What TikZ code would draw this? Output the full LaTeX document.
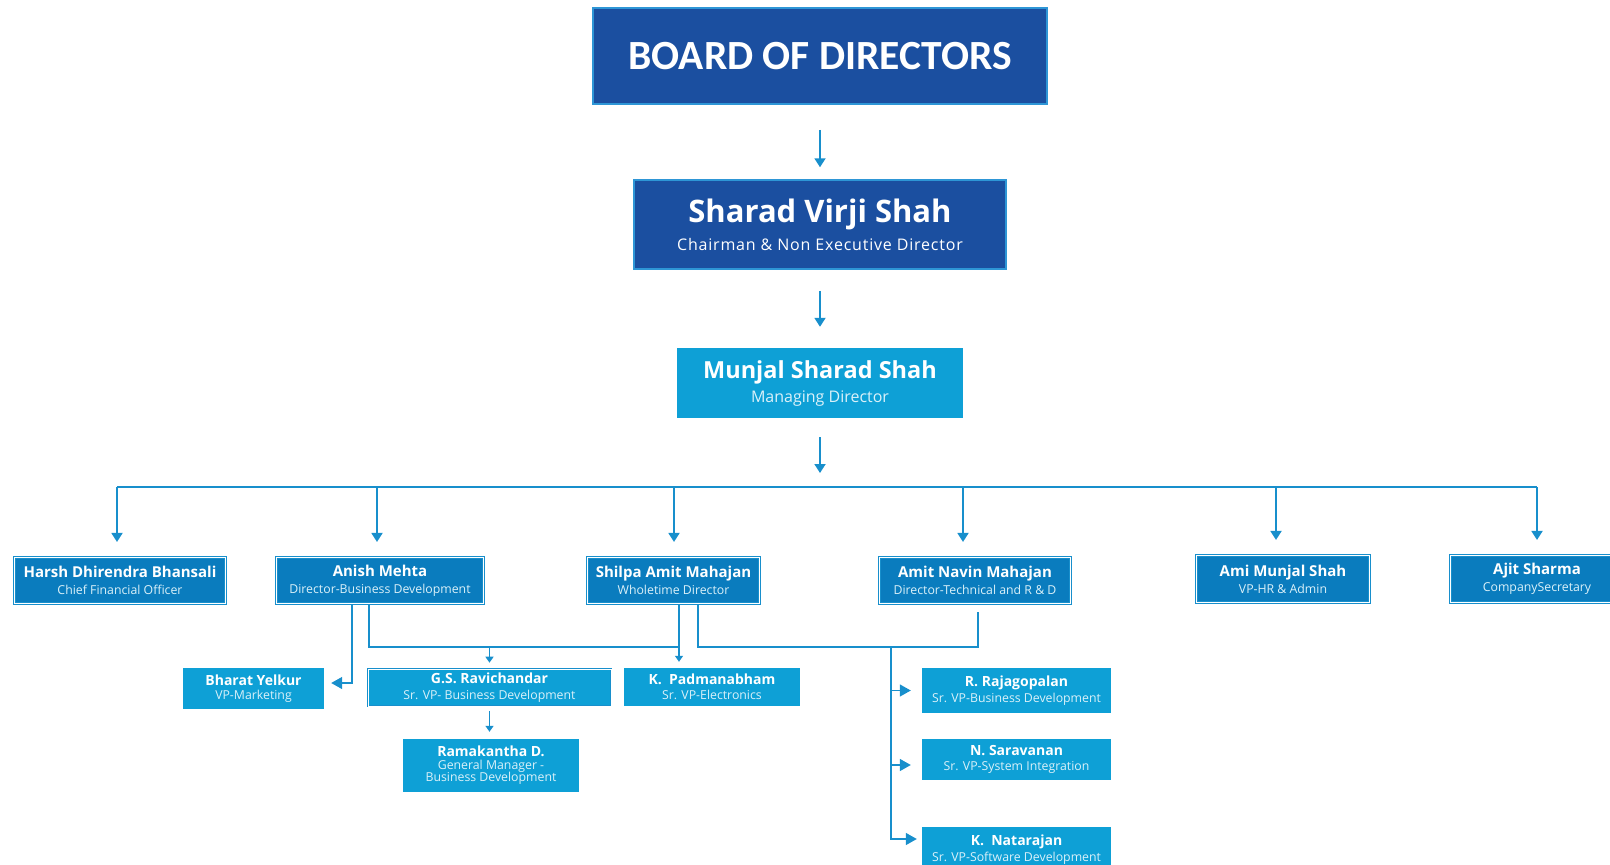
\documentclass[tikz,border=0pt]{standalone}
\usepackage{fontspec}
\setmainfont{Open Sans}
\newfontfamily\calibri{Carlito}
\usetikzlibrary{arrows.meta}

\definecolor{navy}{RGB}{27,79,160}
\definecolor{deep}{RGB}{10,124,190}
\definecolor{sky}{RGB}{14,160,214}
\definecolor{wire}{RGB}{24,143,204}
\definecolor{rim}{RGB}{46,150,214}
\colorlet{pale}{white!85!sky}

\newcommand{\nmtop}{\bfseries\fontsize{31}{34}\selectfont}
\newcommand{\nmmd}{\bfseries\fontsize{23.5}{26}\selectfont}
\newcommand{\nmhead}{\bfseries\fontsize{15}{17}\selectfont}
\newcommand{\nmstaff}{\bfseries\fontsize{14}{16}\selectfont}

\tikzset{
  board/.style={draw=rim, line width=1.5pt, fill=navy, text=white, align=center, inner sep=0pt},
  md/.style={fill=sky, text=pale, align=center, inner sep=0pt, font=\fontsize{16}{24}\selectfont},
  head/.style={draw=wire, double=white, double distance=1.2pt, line width=0.7pt, fill=deep,
    text=pale, align=center, inner sep=0pt, minimum height=46.4pt, font=\fontsize{12.3}{17}\selectfont},
  staff/.style={fill=sky, text=pale, align=center, inner sep=0pt, font=\fontsize{12.3}{15}\selectfont},
  twin/.style={draw=wire, double=white, double distance=1pt, line width=0.6pt},
  feed/.style={draw=wire, line width=1.8pt, -{Triangle[length=9pt,width=11pt]}},
  link/.style={draw=wire, line width=1.4pt},
  tipS/.style={-{Triangle[length=6pt,width=8pt]}},
  tipL/.style={-{Triangle[length=11pt,width=12pt]}}
}

\begin{document}
\begin{tikzpicture}[x=1pt,y=-1pt]
   \useasboundingbox (0,0) rectangle (1610,865);

   % board, chairman, managing director
   \path (820,56) node[board, minimum width=454pt, minimum height=96pt,
     font=\calibri\bfseries\fontsize{41.5}{44}\selectfont] (BD) {BOARD OF DIRECTORS};
   \path (820,224.5) node[board, minimum width=372pt, minimum height=89pt,
     font=\fontsize{16}{28}\selectfont\addfontfeature{LetterSpace=5}] (SVS)
     {{\nmtop\addfontfeature{LetterSpace=0} Sharad Virji Shah}\\Chairman \& Non Executive Director};
   \path (820,383) node[md, minimum width=286pt, minimum height=70pt] (MSS)
     {{\nmmd\color{white} Munjal Sharad Shah}\\Managing Director};

   \draw[feed, shorten <=25pt, shorten >=12pt] (BD) -- (SVS);
   \draw[feed, shorten <=21pt, shorten >=21pt] (SVS) -- (MSS);
   \coordinate (bus) at (820,487);
   \draw[feed, shorten <=19pt, shorten >=14pt] (MSS) -- (bus);

   % second level
   \path (120,580.5) node[head, minimum width=211.4pt] (HDB)
     {{\nmhead\color{white} Harsh Dhirendra Bhansali}\\Chief Financial Officer};
   \path (380,580.5) node[head, minimum width=207.4pt] (AM)
     {{\nmhead\color{white} Anish Mehta}\\Director-Business Development};
   \path (673.5,580.5) node[head, minimum width=172.4pt] (SAM)
     {{\nmhead\color{white} Shilpa Amit Mahajan}\\Wholetime Director};
   \path (975,580.5) node[head, minimum width=191.4pt] (ANM)
     {{\nmhead\color{white} Amit Navin Mahajan}\\Director-Technical and R \& D};
   \path (1283,579) node[head, minimum width=173.4pt, minimum height=47.4pt] (AMS)
     {{\nmhead\color{white} Ami Munjal Shah}\\VP-HR \& Admin};
   \path (1537,579) node[head, minimum width=173.4pt, minimum height=47.4pt] (AS)
     {{\nmhead\color{white} Ajit Sharma}\\CompanySecretary};

   \foreach \n/\d in {HDB/-3,AM/-3,SAM/0.5,ANM/-12,AMS/-7,AS/0} {
     \path ([xshift=\d pt]\n.north) coordinate (\n-top);
     \draw[feed, shorten >=15pt] (bus -| \n-top) -- (\n-top);
   }
   \draw[link, line width=1.8pt] (bus -| HDB-top) -- (bus -| AS-top);

   % third level
   \path (253.5,688.5) node[staff, minimum width=141pt, minimum height=41pt, font=\fontsize{12.3}{14}\selectfont] (BY)
     {{\nmstaff\color{white} Bharat Yelkur}\\VP-Marketing};
   \path (489.5,687.5) node[staff, twin, minimum width=243pt, minimum height=37pt, font=\fontsize{12.3}{15.5}\selectfont] (GSR)
     {{\nmstaff\color{white} G.S. Ravichandar}\\Sr. VP- Business Development};
   \path (491,765.5) node[staff, minimum width=176pt, minimum height=53pt, font=\fontsize{12.3}{12.5}\selectfont] (RD)
     {{\nmstaff\color{white} Ramakantha D.}\\General Manager -\\Business Development};
   \path (712,687) node[staff, minimum width=176pt, minimum height=38pt] (KP)
     {{\nmstaff\color{white} K.\ \ Padmanabham}\\Sr. VP-Electronics};
   \path (1016.5,690.5) node[staff, minimum width=189pt, minimum height=45pt, font=\fontsize{12.3}{16}\selectfont] (RR)
     {{\nmstaff\color{white} R. Rajagopalan}\\Sr. VP-Business Development};
   \path (1016.5,759.5) node[staff, minimum width=189pt, minimum height=41pt] (NS)
     {{\nmstaff\color{white} N. Saravanan}\\Sr. VP-System Integration};
   \path (1016.5,849.5) node[staff, minimum width=189pt, minimum height=45pt, font=\fontsize{12.3}{16}\selectfont] (KN)
     {{\nmstaff\color{white} K.\ \ Natarajan}\\Sr. VP-Software Development};

   \path ([xshift=-28pt]AM.south) coordinate (AM-l)
         ([xshift=-11pt]AM.south) coordinate (AM-r)
         ([xshift=5.5pt]SAM.south) coordinate (SAM-l)
         ([xshift=24.5pt]SAM.south) coordinate (SAM-r)
         ([xshift=3pt]ANM.south) coordinate (ANM-d)
         ([yshift=5.5pt]BY.east) coordinate (BY-in)
         ([yshift=-5.5pt]NS.west) coordinate (NS-in)
         ([yshift=10.5pt]KN.west) coordinate (KN-in);
   \coordinate (rail) at (0,647);
   \coordinate (spine) at (891,647);

   \draw[link, tipL, shorten >=7pt] (AM-l) |- (BY-in);
   \draw[link] (AM-r) |- (SAM-l |- rail);
   \draw[link, tipS, shorten >=6pt] (SAM-l) -- (SAM-l |- KP.north);
   \draw[link, tipS, shorten >=6pt] (GSR.north |- rail) -- (GSR.north);
   \draw[link, tipS, shorten <=5pt, shorten >=7pt] (GSR.south) -- (GSR.south |- RD.north);
   \draw[link, shorten >=8pt] (SAM-r) |- (ANM-d |- rail) -- (ANM-d);
   \draw[link, tipL, shorten >=5pt] (spine) |- (KN-in);
   \draw[link, tipL, shorten >=11pt] (spine |- RR.west) -- (RR.west);
   \draw[link, tipL, shorten >=11pt] (spine |- NS-in) -- (NS-in);
\end{tikzpicture}
\end{document}
